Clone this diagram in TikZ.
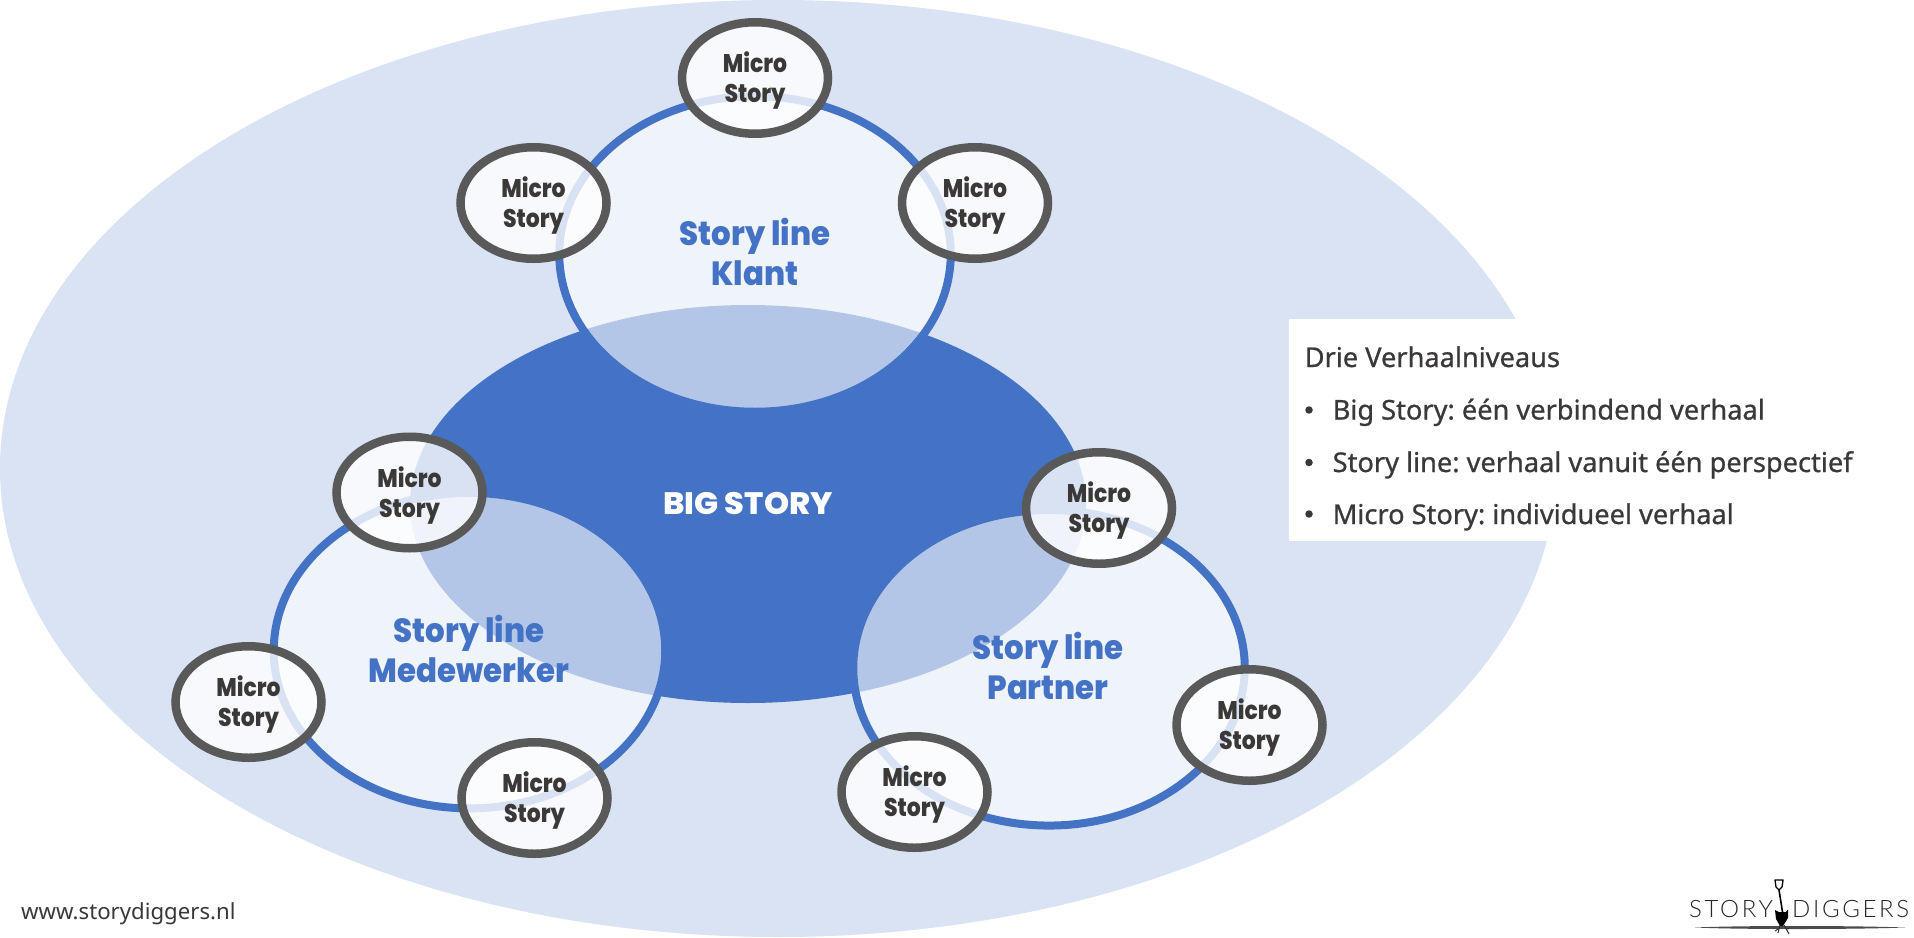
\documentclass[tikz,border=0pt]{standalone}
\usepackage{fontspec}
\usetikzlibrary{shapes.geometric}
\frenchspacing
\setmainfont[FakeBold=0.8]{Noto Sans}
\newfontfamily\lightfont{Noto Sans}
\IfFontExistsTF{Poppins ExtraBold}{\newcommand{\heavyname}{Poppins ExtraBold}}{\newcommand{\heavyname}{Poppins Bold}}
\IfFontExistsTF{Lato Light}{\newcommand{\logoname}{Lato Light}}{\newcommand{\logoname}{Lato}}
\newfontfamily\bigfont[FakeStretch=1.03]{\heavyname}
\newfontfamily\titlefont[FakeStretch=0.92]{\heavyname}
\newfontfamily\microfont[FakeStretch=0.86]{\heavyname}
\newfontfamily\logofont[LetterSpace=11]{\logoname}
\definecolor{paleblue}{HTML}{D9E3F3}
\definecolor{midblue}{HTML}{4472C4}
\definecolor{ringgrey}{HTML}{595959}
\definecolor{inkgrey}{HTML}{3B3838}
\newcommand{\microlabel}{\rule{0pt}{26pt}Micro\\Story}
\tikzset{
  bigstory/.style={ellipse,fill=midblue,inner sep=0pt,outer sep=0pt,minimum width=676pt,minimum height=398pt,text=white,font=\bigfont\fontsize{31}{36}\selectfont},
  storyring/.style={ellipse,draw=midblue,line width=8pt,fill=white,fill opacity=0.6,draw opacity=1,inner sep=0pt,outer sep=0pt,minimum width=391.5pt,minimum height=315.5pt},
  storytitle/.style={text=midblue,align=center,inner sep=0pt,font=\titlefont\fontsize{33.5}{40}\selectfont},
  microring/.style={ellipse,draw=ringgrey,line width=8.5pt,fill=white,fill opacity=0.8,draw opacity=1,text opacity=1,inner sep=0pt,outer sep=0pt,minimum width=146pt,minimum height=111.5pt,text=inkgrey,align=center,font=\microfont\fontsize{25.5}{30}\selectfont},
  legendtext/.style={anchor=base west,inner sep=0pt,text=inkgrey,font=\fontsize{27.2}{30}\selectfont},
  bulletdot/.style={circle,fill=inkgrey,inner sep=0pt,minimum size=7.5pt}
}
\begin{document}
\begin{tikzpicture}[x=1pt,y=-1pt]
\useasboundingbox (0,0) rectangle (1914,937);
\fill[white] (0,0) rectangle (1914,937);
\fill[paleblue] (778,468.5) ellipse [x radius=778,y radius=468.5];
\node[bigstory] (big) at (748,504) {BIG STORY};
% story lines
\node[storyring] (klant) at (755,254) {};
\node[storyring] (mede) at (469.5,650.6) {};
\node[storyring] (partner) at (1049,667.8) {};
\node[storytitle] (klantT) at (755,252) {Story line\\Klant};
\node[storytitle] (medeT) at (469,649) {Story line\\Medewerker};
\node[storytitle] (partnerT) at (1048,666) {Story line\\Partner};
% micro stories
\node[microring] (m1) at (755,78) {\microlabel};
\node[microring] (m2) at (533.5,203) {\microlabel};
\node[microring] (m3) at (975,203) {\microlabel};
\node[microring] (m4) at (409.5,492.5) {\microlabel};
\node[microring] (m5) at (248.5,702) {\microlabel};
\node[microring] (m6) at (534.5,798) {\microlabel};
\node[microring] (m7) at (1099,508) {\microlabel};
\node[microring] (m8) at (1249.5,725) {\microlabel};
\node[microring] (m9) at (914.5,792) {\microlabel};
% legend
\fill[white] (1289,319) rectangle (1914,541);
\node[legendtext] (l0) at (1304.5,367) {Drie Verhaalniveaus};
\node[bulletdot] (b1) at (1309,410) {};
\node[legendtext] (l1) at (1332.5,419.5) {Big Story: één verbindend verhaal};
\node[bulletdot] (b2) at (1309,462.5) {};
\node[legendtext] (l2) at (1332.5,472) {Story line: verhaal vanuit één perspectief};
\node[bulletdot] (b3) at (1309,514) {};
\node[legendtext] (l3) at (1332.5,524) {Micro Story: individueel verhaal};
% footer
\node[anchor=west,inner sep=0pt,text=inkgrey,font=\lightfont\fontsize{22.2}{26}\selectfont] (web) at (21,913.5) {www.storydiggers.nl};
% logo
\node[anchor=base east,inner sep=0pt,text=black!85,font=\logofont\fontsize{24}{26}\selectfont] (logoA) at (1773,917) {STORY};
\node[anchor=base west,inner sep=0pt,text=black!85,font=\logofont\fontsize{24}{26}\selectfont] (logoB) at (1792,917) {DIGGERS};
\fill[black!70] (1695,927.5) .. controls (1740,925.5) and (1850,925.5) .. (1905,927.5) .. controls (1850,929.5) and (1740,929.5) .. (1695,927.5) -- cycle;
\draw[black,line width=1.3pt,line join=round] (1775,880) -- (1783,880) -- (1782,887) -- (1779,890) -- (1776,887) -- cycle;
\draw[black,line width=1.6pt] (1779,890) -- (1782.5,912);
\fill[black] (1775,910) -- (1779,912) -- (1786,912) -- (1788,909.5) -- (1788,918) -- (1783,926) -- (1780,926) -- (1776,919) -- cycle;
\draw[black!80,line width=1pt] (1780,925) -- (1778,933) (1784,925) -- (1789,934) (1778,929) -- (1775,931) (1786,929) -- (1790,928);
\end{tikzpicture}
\end{document}
